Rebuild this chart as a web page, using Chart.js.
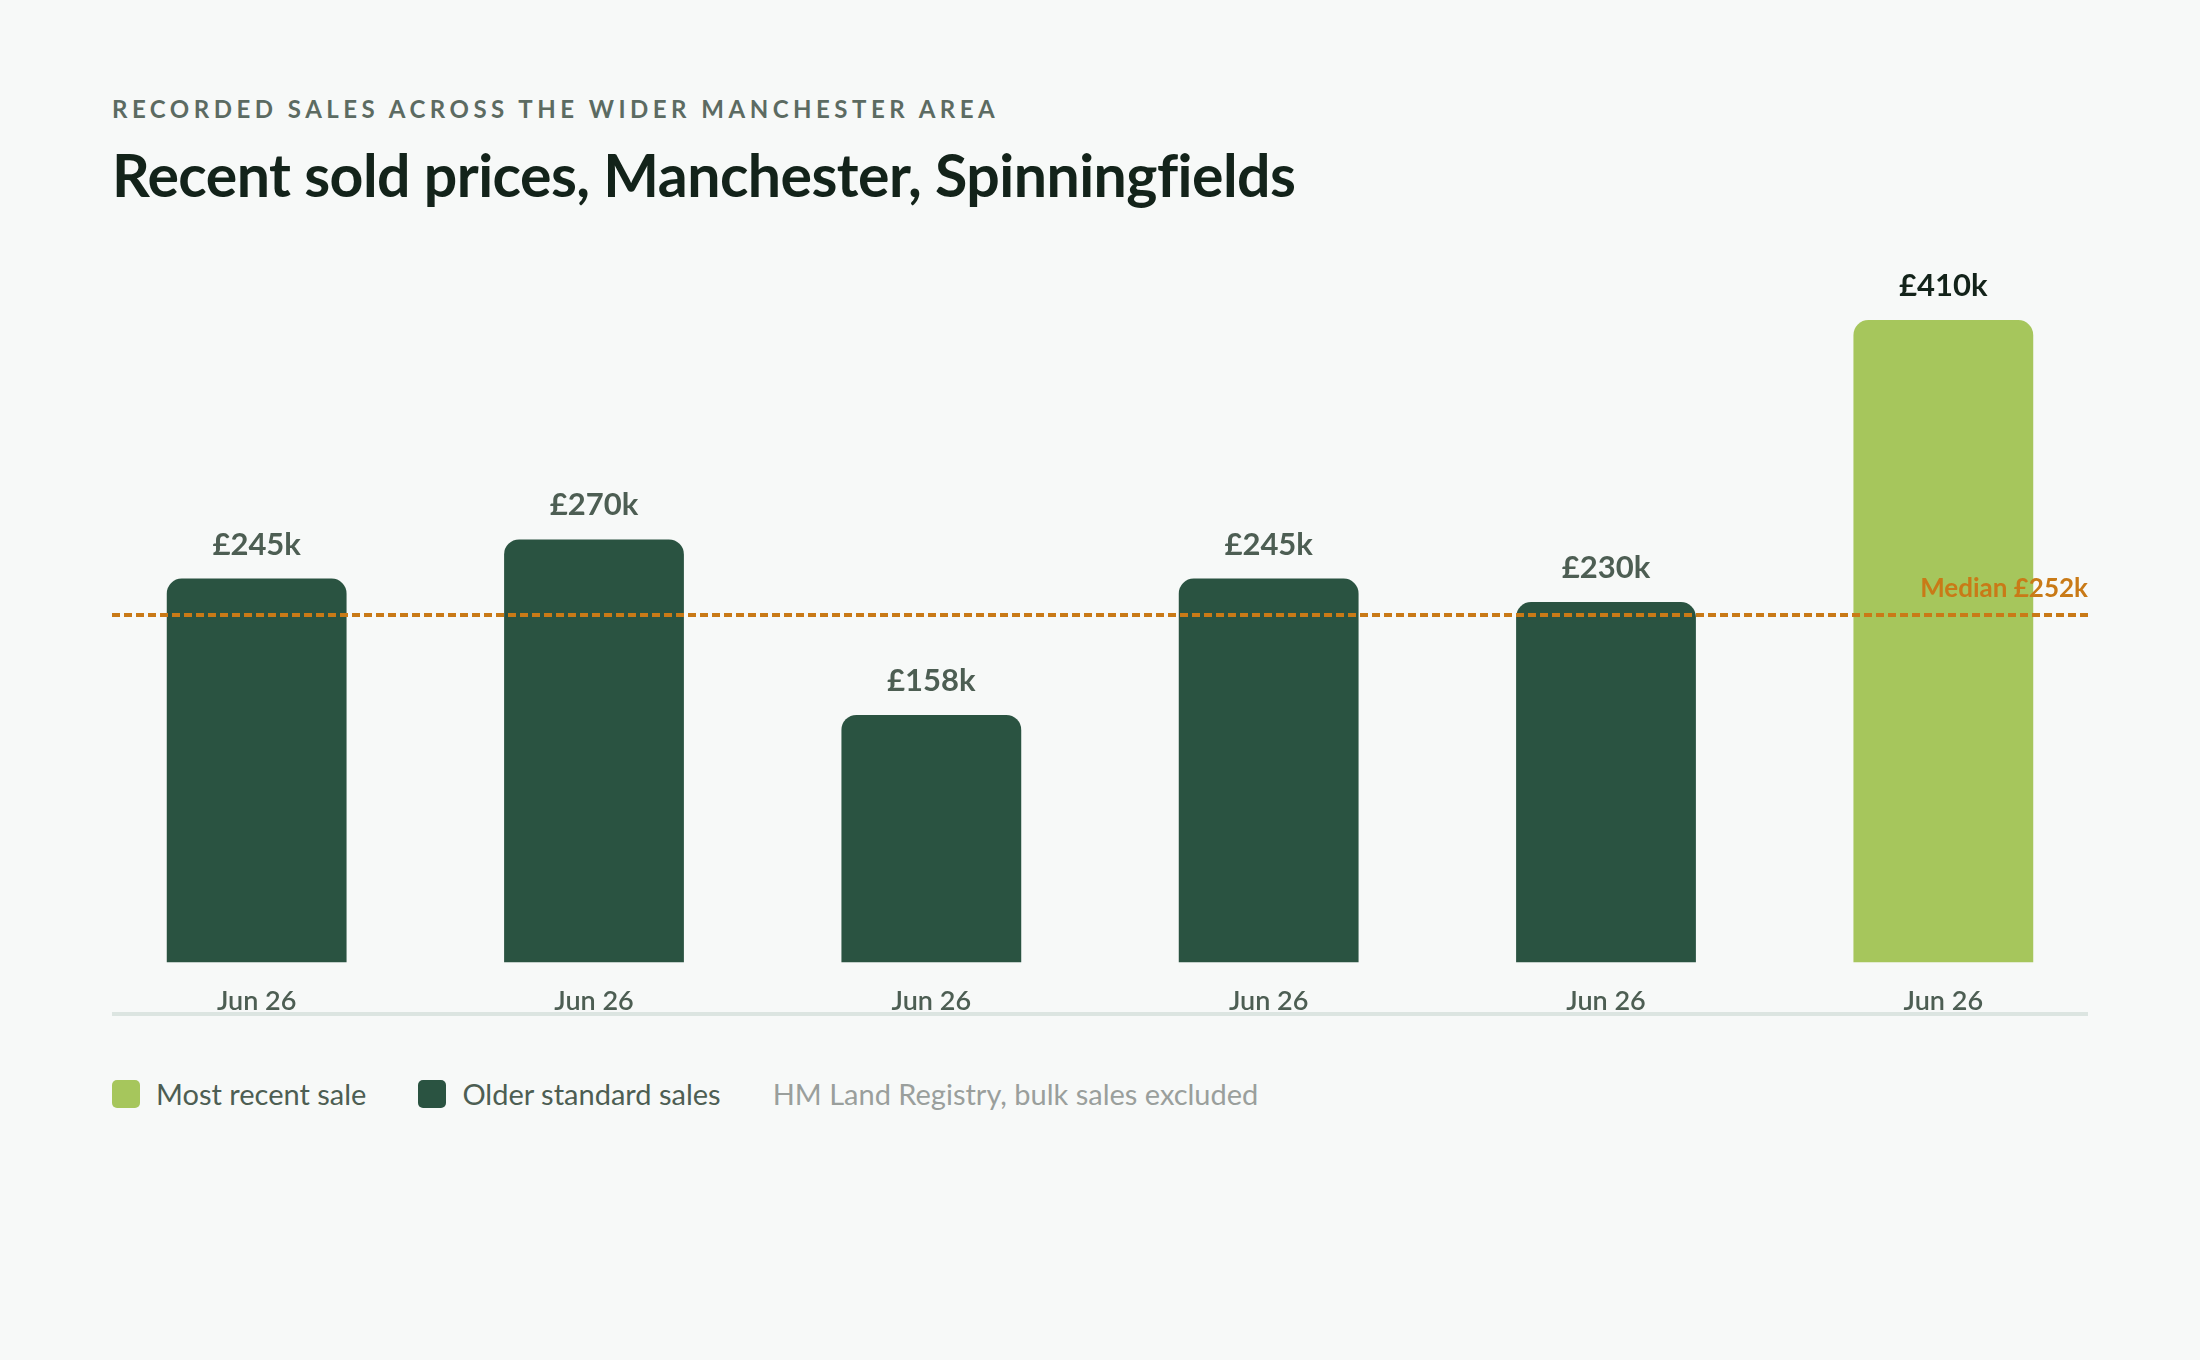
<!DOCTYPE html>
<html>
<head>
<meta charset="utf-8">
<script src="https://cdn.jsdelivr.net/npm/chart.js@4.4.1/dist/chart.umd.min.js"></script>
<style>
  body { margin: 0; background: #f7f9f8; font-family: "Lato", sans-serif; }
  #page { position: relative; width: 2200px; height: 1360px; overflow: hidden; }
  .kicker { position: absolute; left: 112px; top: 94px; font-size: 24px; font-weight: 700;
    letter-spacing: 4.5px; color: #5c6b62; }
  .title { position: absolute; left: 112px; top: 139px; font-size: 59px; font-weight: 700;
    color: #13231a; letter-spacing: -0.55px; }
  #chart { position: absolute; left: 0; top: 200px; }
  .baseline { position: absolute; left: 112px; top: 1012px; width: 1976px; height: 4px; background: #dce5e1; }
  .legend { position: absolute; left: 112px; top: 1076px; display: flex; align-items: center;
    font-size: 29px; color: #4d5e53; }
  .legend .sw { width: 28px; height: 28px; border-radius: 5px; margin-right: 16px; }
  .legend .item { display: flex; align-items: center; margin-right: 52px; }
  .legend .src { color: #9a9f9c; }
</style>
</head>
<body>
<div id="page">
  <div class="kicker">RECORDED SALES ACROSS THE WIDER MANCHESTER AREA</div>
  <div class="title">Recent sold prices, Manchester, Spinningfields</div>
  <canvas id="chart" width="2200" height="843"></canvas>
  <div class="baseline"></div>
  <div class="legend">
    <div class="item"><div class="sw" style="background:#a6c65c"></div>Most recent sale</div>
    <div class="item"><div class="sw" style="background:#2a5341"></div>Older standard sales</div>
    <div class="src">HM Land Registry, bulk sales excluded</div>
  </div>
</div>
<script>
const saleDates = ["Jun 26", "Jun 26", "Jun 26", "Jun 26", "Jun 26", "Jun 26"];
const salePrices = [245, 270, 158, 245, 230, 410]; // £k
const priceLabels = ["£245k", "£270k", "£158k", "£245k", "£230k", "£410k"];
const isLatest = [false, false, false, false, false, true];
const medianPrice = 252;
const medianLabel = "Median £252k";

const DARK = "#2a5341";
const LIGHT = "#a6c65c";

const valueLabels = {
  id: "valueLabels",
  afterDatasetsDraw(chart) {
    const ctx = chart.ctx;
    const bars = chart.getDatasetMeta(0).data;
    ctx.save();
    ctx.font = "700 31px Lato, sans-serif";
    ctx.textAlign = "center";
    ctx.textBaseline = "alphabetic";
    bars.forEach((bar, i) => {
      ctx.fillStyle = isLatest[i] ? "#13231a" : "#4d5e53";
      ctx.fillText(priceLabels[i], bar.x, bar.y - 24);
    });
    ctx.restore();
  }
};

const medianLine = {
  id: "medianLine",
  afterDatasetsDraw(chart) {
    const ctx = chart.ctx;
    const area = chart.chartArea;
    const y = chart.scales.ym.getPixelForValue(medianPrice);
    const x0 = area.left + 24, x1 = area.right - 24;
    ctx.save();
    ctx.strokeStyle = "#c97a17";
    ctx.lineWidth = 4;
    ctx.setLineDash([8, 4]);
    ctx.beginPath();
    ctx.moveTo(x0, y);
    ctx.lineTo(x1, y);
    ctx.stroke();
    ctx.setLineDash([]);
    ctx.fillStyle = "#c97a17";
    ctx.font = "700 26px Lato, sans-serif";
    ctx.textAlign = "right";
    ctx.textBaseline = "alphabetic";
    ctx.fillText(medianLabel, x1, y - 18);
    ctx.restore();
  }
};

new Chart(document.getElementById("chart"), {
  type: "bar",
  data: {
    labels: saleDates,
    datasets: [{
      data: salePrices,
      backgroundColor: isLatest.map(l => l ? LIGHT : DARK),
      borderRadius: { topLeft: 15, topRight: 15, bottomLeft: 0, bottomRight: 0 },
      borderSkipped: false,
      categoryPercentage: 1,
      barPercentage: 0.533
    }]
  },
  options: {
    responsive: false,
    devicePixelRatio: 1,
    animation: false,
    layout: { padding: { left: 88, right: 88, top: 120, bottom: 4 } },
    plugins: { legend: { display: false }, tooltip: { enabled: false } },
    scales: {
      x: {
        grid: { display: false, drawTicks: false },
        border: { display: false },
        ticks: { color: "#4d5e53", font: { family: "Lato", size: 27, weight: "600" }, padding: 22 }
      },
      y: {
        display: false,
        min: 0,
        max: Math.max(...salePrices)
      },
      ym: {
        display: false,
        min: 0,
        max: 466
      }
    }
  },
  plugins: [valueLabels, medianLine]
});
</script>
</body>
</html>
